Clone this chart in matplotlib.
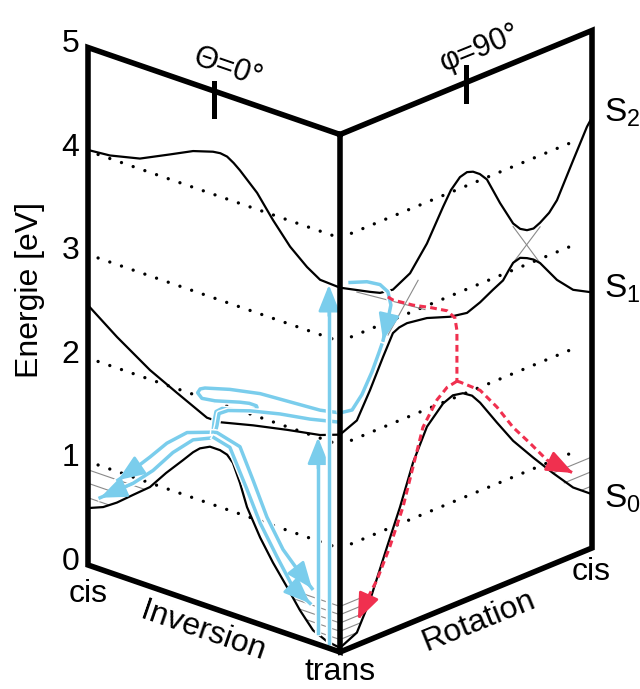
import numpy as np
import matplotlib
matplotlib.use("Agg")
import matplotlib.pyplot as plt
from matplotlib.transforms import Affine2D
import matplotlib.patheffects as pe

plt.rcParams['font.family'] = ['Liberation Sans', 'DejaVu Sans']

## data ------------------------------------------------------------
energy_ticks = [0, 1, 2, 3, 4, 5]
grid_levels = [1, 2, 3, 4]

# Inversion panel: u = 0 (cis) .. 1 (trans)
inv_u_S2 = [0, .087, .206, .325, .417, .496, .525, .552, .578, .603, .671, .734, .802, .869, .921, 1]
inv_E_S2 = [4.01, 4.03, 4.10, 4.24, 4.35, 4.41, 4.42, 4.41, 4.37, 4.32, 4.16, 3.95, 3.75, 3.61, 3.53, 3.52]
inv_u_S1 = [0, .115, .246, .353, .472, .524, .655, .79, .921, 1]
inv_E_S1 = [2.51, 2.30, 2.09, 1.96, 1.82, 1.82, 1.90, 1.97, 2.03, 2.10]
inv_u_S0 = [0, .06, .115, .18, .246, .31, .377, .417, .444, .484, .524, .552, .575, .603,
            .631, .683, .734, .79, .841, .893, .948, 1]
inv_E_S0 = [.55, .61, .70, .83, .96, 1.15, 1.33, 1.44, 1.50, 1.55, 1.55, 1.53, 1.47, 1.30,
            1.09, .84, .64, .45, .27, .12, .06, .04]

# Rotation panel: v = 0 (trans) .. 1 (cis)
rot_v_S2 = [0, .119, .159, .21, .278, .345, .409, .44, .476, .504, .528, .555, .583, .635, .687,
            .715, .742, .768, .794, .83, .861, .925, .98, 1]
rot_E_S2 = [3.52, 3.36, 3.31, 3.29, 3.38, 3.60, 3.89, 4.02, 4.11, 4.13, 4.11, 4.06, 3.98, 3.70, 3.45,
            3.37, 3.33, 3.32, 3.35, 3.41, 3.50, 3.82, 4.09, 4.16]
rot_v_S1 = [0, .067, .119, .171, .21, .235, .266, .345, .437, .504, .556, .607, .647, .668, .687,
            .715, .742, .768, .794, .861, .925, 1]
rot_E_S1 = [2.10, 2.17, 2.41, 2.68, 2.87, 2.90, 2.91, 2.88, 2.80, 2.77, 2.82, 2.89, 2.94, 3.01, 3.07,
            3.09, 3.06, 3.02, 2.96, 2.73, 2.57, 2.47]
rot_v_S0 = [0, .067, .119, .187, .238, .29, .345, .409, .448, .488, .524, .556, .623, .687,
            .766, .845, .925, 1]
rot_E_S0 = [.04, .12, .38, .83, 1.16, 1.54, 1.83, 1.99, 2.03, 2.01, 1.95, 1.85, 1.59, 1.35,
            1.11, .88, .66, .52]

# vibrational levels
trans_levels = [.12, .20, .28, .36, .44]
trans_u_start = [.893, .865, .838, .816, .793]
trans_v_end = [.067, .083, .099, .115, .128]
cis_inv_levels = [.65, .79, .92]
cis_inv_u_end = [.08, .16, .226]
cis_rot_levels = [.60, .74, .88]
cis_rot_v_start = [.957, .89, .845]

# thin diabatic crossings (rotation panel)
cross_v = [[.067, .337], [.31, .19], [.687, .794], [.687, .794]]
cross_E = [[3.41, 2.97], [3.28, 2.87], [3.42, 2.96], [3.07, 3.31]]

# blue trajectories
exc_u = [.913, .956]
exc_E0 = [.11, .05]
exc_E1 = [2.0, 3.51]
rot_blue1_v = [.04, .107, .159, .19, .202, .19, .171]
rot_blue1_E = [3.53, 3.47, 3.39, 3.29, 3.15, 3.02, 2.84]
rot_blue2_v = [.165, .155, .127, .087, .048, 0]
rot_blue2_E = [2.80, 2.74, 2.58, 2.40, 2.29, 2.31]
loop1_u = [1, .921, .802, .683, .563, .464, .445, .435, .452, .504, .603, .64, .668, .671, .663,
           .603, .532, .508, .5, .496]
loop1_E = [2.31, 2.27, 2.25, 2.23, 2.17, 2.10, 2.075, 2.03, 1.99, 2.01, 2.08, 2.10, 2.10, 2.085, 2.06,
           2.0, 1.96, 1.91, 1.80, 1.70]
loop2_u = [1, .881, .762, .643, .556, .52, .512, .5]
loop2_E = [2.22, 2.15, 2.10, 2.03, 1.96, 1.90, 1.78, 1.65]
cisA_u = [.496, .393, .313, .246, .179, .119]
cisA_E = [1.70, 1.61, 1.44, 1.25, 1.07, .92]
cisB_u = [.5, .417, .337, .258, .179, .048]
cisB_E = [1.65, 1.56, 1.37, 1.13, .94, .69]
transA_u = [.496, .512, .603, .655, .71, .774, .841, .889]
transA_E = [1.70, 1.71, 1.65, 1.37, 1.06, .80, .63, .52]
transB_u = [.5, .563, .631, .683, .75, .813, .881]
transB_E = [1.65, 1.61, 1.26, .98, .71, .47, .37]

# red path (rotation panel)
red_v = [.19, .21, .29, .357, .425, .456, .464, .464]
red_E = [3.24, 3.19, 3.06, 2.97, 2.87, 2.77, 2.64, 2.15]
redL_v = [.464, .425, .385, .329, .29, .25, .198, .147, .107, .071]
redL_E = [2.15, 2.13, 2.05, 1.84, 1.50, 1.15, .82, .55, .40, .24]
redR_v = [.464, .476, .556, .623, .687, .754, .821, .925]
redR_E = [2.15, 2.13, 1.97, 1.74, 1.48, 1.26, 1.03, .80]

## figure ----------------------------------------------------------
fig = plt.figure(figsize=(6.4, 6.89), dpi=100)
ax = fig.add_axes([0, 0, 1, 1])
ax.set_xlim(0, 640)
ax.set_ylim(689, 0)
ax.axis('off')

# oblique panels
T_inv = Affine2D.from_values(252, 87, 0, -103.5, 88, 565) + ax.transData
T_rot = Affine2D.from_values(252, -104, 0, -103.5, 340, 652) + ax.transData

BLUE = '#7acdec'
RED = '#f0304f'
GRAY = '#8a8a8a'
halo = [pe.Stroke(linewidth=4.6, foreground='white'), pe.Normal()]

# dotted energy grid
for e in grid_levels:
    ax.plot([0.04, 1], [e, e], transform=T_inv, color='k', lw=2.4,
            ls=(0, (0.01, 3.7)), dash_capstyle='round', zorder=1)
    ax.plot([0, 0.95], [e, e], transform=T_rot, color='k', lw=2.4,
            ls=(0, (0.01, 3.7)), dash_capstyle='round', zorder=1)

# vibrational levels
for lev, us, ve in zip(trans_levels, trans_u_start, trans_v_end):
    ax.plot([us, 1], [lev, lev], transform=T_inv, color=GRAY, lw=0.8, zorder=2)
    ax.plot([0, ve], [lev, lev], transform=T_rot, color=GRAY, lw=0.8, zorder=2)
for lev, ue in zip(cis_inv_levels, cis_inv_u_end):
    ax.plot([0, ue], [lev, lev], transform=T_inv, color=GRAY, lw=0.8, zorder=2)
for lev, vs in zip(cis_rot_levels, cis_rot_v_start):
    ax.plot([vs, 1], [lev, lev], transform=T_rot, color=GRAY, lw=0.8, zorder=2)
for cv, ce in zip(cross_v, cross_E):
    ax.plot(cv, ce, transform=T_rot, color=GRAY, lw=0.8, zorder=2)

# potential curves
for uu, ee in [(inv_u_S2, inv_E_S2), (inv_u_S1, inv_E_S1), (inv_u_S0, inv_E_S0)]:
    ax.plot(uu, ee, transform=T_inv, color='k', lw=1.6, solid_joinstyle='round', zorder=3)
for vv, ee in [(rot_v_S2, rot_E_S2), (rot_v_S1, rot_E_S1), (rot_v_S0, rot_E_S0)]:
    ax.plot(vv, ee, transform=T_rot, color='k', lw=1.6, solid_joinstyle='round', zorder=3)


def arrow_head(T, xs, ys, color, frac=1.0, z=5):
    x0 = xs[-1] + frac * (xs[-2] - xs[-1])
    y0 = ys[-1] + frac * (ys[-2] - ys[-1])
    ax.annotate('', xy=(xs[-1], ys[-1]), xycoords=T, xytext=(x0, y0), textcoords=T,
                arrowprops=dict(arrowstyle='-|>,head_length=0.9,head_width=0.36',
                                color=color, lw=2.0, mutation_scale=18,
                                shrinkA=0, shrinkB=0), zorder=z)


# blue trajectories
for uu, ee in [(loop1_u, loop1_E), (loop2_u, loop2_E), (cisA_u, cisA_E), (cisB_u, cisB_E),
               (transA_u, transA_E), (transB_u, transB_E)]:
    ax.plot(uu, ee, transform=T_inv, color=BLUE, lw=2.5, solid_joinstyle='round',
            path_effects=halo, zorder=4)
for uu, ee in [(cisA_u, cisA_E), (cisB_u, cisB_E), (transA_u, transA_E), (transB_u, transB_E)]:
    arrow_head(T_inv, uu, ee, BLUE, z=4)
for vv, ee in [(rot_blue1_v, rot_blue1_E), (rot_blue2_v, rot_blue2_E)]:
    ax.plot(vv, ee, transform=T_rot, color=BLUE, lw=2.5, solid_joinstyle='round',
            path_effects=halo, zorder=4)
arrow_head(T_rot, rot_blue1_v, rot_blue1_E, BLUE, z=4)
for u, e0, e1 in zip(exc_u, exc_E0, exc_E1):
    ax.plot([u, u], [e0, e1 - 0.1], transform=T_inv, color=BLUE, lw=2.5,
            path_effects=halo, zorder=4)
    arrow_head(T_inv, [u, u], [e1 - 0.3, e1], BLUE, z=4)

# red path
for vv, ee in [(red_v, red_E), (redL_v, redL_E), (redR_v, redR_E)]:
    ax.plot(vv, ee, transform=T_rot, color=RED, lw=2.2, ls=(0, (2.2, 1.4)), zorder=5)
arrow_head(T_rot, redL_v, redL_E, RED, frac=0.6)
arrow_head(T_rot, redR_v, redR_E, RED, frac=0.5)

# frame
ax.plot([1, 0, 0, 1, 1], [5, 5, 0, 0, 5], transform=T_inv, color='k', lw=4,
        solid_joinstyle='miter', zorder=6)
ax.plot([0, 1, 1, 0], [5, 5, 0, 0], transform=T_rot, color='k', lw=4,
        solid_joinstyle='miter', zorder=6)
ax.plot([.5, .5], [4.76, 5.08], transform=T_inv, color='k', lw=3.6, zorder=6)
ax.plot([.5, .5], [4.82, 5.15], transform=T_rot, color='k', lw=3.6, zorder=6)

# energy axis labels
for e in energy_ticks:
    ax.text(-0.035, e, str(e), transform=T_inv, fontsize=23, ha='right', va='center')
ax.text(30, 290, 'Energie [eV]', fontsize=23, rotation=90, ha='center', va='center')

# annotations
ax.text(228, 68, 'Θ=0°', fontsize=22, rotation=-19, rotation_mode='anchor',
        ha='center', va='center')
ax.text(480, 48, 'φ=90°', fontsize=22, rotation=22, rotation_mode='anchor',
        ha='center', va='center')
ax.text(604, 113, 'S$_\\mathregular{2}$', fontsize=24, ha='left', va='center')
ax.text(604, 289, 'S$_\\mathregular{1}$', fontsize=24, ha='left', va='center')
ax.text(604, 499, 'S$_\\mathregular{0}$', fontsize=24, ha='left', va='center')
ax.text(88, 594, 'cis', fontsize=23, ha='center', va='center')
ax.text(591, 572, 'cis', fontsize=23, ha='center', va='center')
ax.text(340, 672, 'trans', fontsize=23, ha='center', va='center')
ax.text(203, 632, 'Inversion', fontsize=23, rotation=-19, rotation_mode='anchor',
        ha='center', va='center')
ax.text(479, 621, 'Rotation', fontsize=23, rotation=22, rotation_mode='anchor',
        ha='center', va='center')

plt.savefig('out.png', dpi=100)
